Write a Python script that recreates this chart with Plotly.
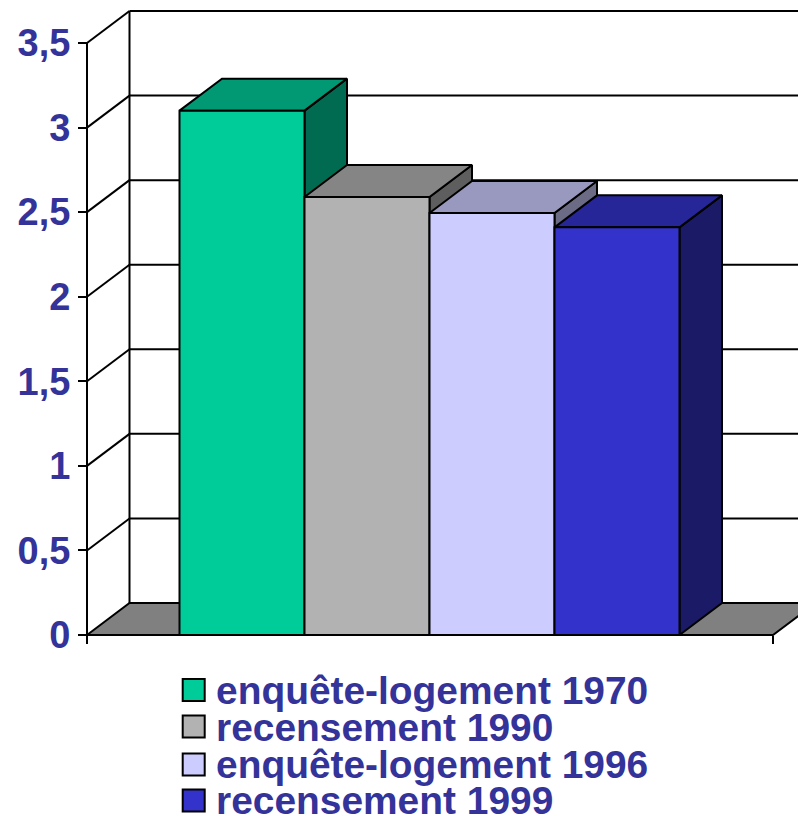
import plotly.graph_objects as go

# Data
series_names = ["enquête-logement 1970", "recensement 1990", "enquête-logement 1996", "recensement 1999"]
series_values = [3.1, 2.59, 2.495, 2.41]
front_colors = ["#00CC99", "#B2B2B2", "#CCCCFF", "#3333CC"]
top_colors = ["#009973", "#858585", "#9999BF", "#262699"]
side_colors = ["#006B50", "#5E5E5E", "#6B6B85", "#1A1A66"]
y_ticks = [0, 0.5, 1, 1.5, 2, 2.5, 3, 3.5]
y_labels = ["0", "0,5", "1", "1,5", "2", "2,5", "3", "3,5"]

W, H = 798, 816
INK = "#333399"
FONT = "Liberation Sans"
LW = 2

# Scale: pixels per unit
PX_Y = 169.14
PX_X = 125.0
ORIGIN_X, ORIGIN_Y = 87.0, 635.0
DEPTH_X = 42.5 / PX_X
DEPTH_Y = 32.0 / PX_Y

x_start = -1.24
x_end = 4.248
y_lo, y_hi = -0.05, 3.70
pad_left_px = 7
x_lo = x_start - pad_left_px / PX_X
x_hi = x_start + (W - ORIGIN_X) / PX_X

dom_x = [(ORIGIN_X - pad_left_px) / W, 1]
dom_y = [(H - (ORIGIN_Y - y_lo * PX_Y)) / H, (H - (ORIGIN_Y - y_hi * PX_Y)) / H]

shapes = []


def line(x0, y0, x1, y1, layer="below"):
    shapes.append(dict(type="line", xref="x", yref="y", x0=x0, y0=y0, x1=x1, y1=y1,
                       layer=layer, line=dict(color="black", width=LW)))


# Floor
bx, by = x_start + DEPTH_X, DEPTH_Y
shapes.append(dict(type="path", xref="x", yref="y", layer="below",
                   path=f"M{x_start},0 L{bx},{by} L{x_end + DEPTH_X},{by} L{x_end},0 Z",
                   fillcolor="#808080", line=dict(color="black", width=LW)))
# Walls and gridlines
line(x_start, 0, x_start, y_ticks[-1])
line(bx, by, bx, y_ticks[-1] + by)
for v in y_ticks[1:]:
    line(x_start, v, bx, v + by)
    line(bx, v + by, x_end + DEPTH_X + 1, v + by)

fig = go.Figure()

# Top and side faces, projected from each value (base subplot)
for i, v in enumerate(series_values):
    l, r = i - 0.5, i + 0.5
    fig.add_trace(go.Scatter(x=[r, r + DEPTH_X, r + DEPTH_X, r, r],
                             y=[v, v + DEPTH_Y, DEPTH_Y, 0, v],
                             mode="lines", fill="toself", fillcolor=side_colors[i],
                             line=dict(color="black", width=LW), showlegend=False, hoverinfo="skip"))
    fig.add_trace(go.Scatter(x=[l, l + DEPTH_X, r + DEPTH_X, r, l],
                             y=[v, v + DEPTH_Y, v + DEPTH_Y, v, v],
                             mode="lines", fill="toself", fillcolor=top_colors[i],
                             line=dict(color="black", width=LW), showlegend=False, hoverinfo="skip"))

# Front faces on an overlaid subplot, so that they cover the faces behind them
for i, (name, v) in enumerate(zip(series_names, series_values)):
    fig.add_trace(go.Bar(x=[i], y=[v], width=1, name=name, showlegend=False, xaxis="x2", yaxis="y2",
                         marker=dict(color=front_colors[i], line=dict(color="black", width=LW))))

# Front baseline over bars
line(x_start, 0, x_end, 0, layer="above")

# Legend entries
for i, name in enumerate(series_names):
    fig.add_trace(go.Scatter(x=[None], y=[None], mode="markers",
                             name=f'<span style="font-size:38.9px">{name}</span>',
                             marker=dict(symbol="square", size=10, color=front_colors[i])))

# Larger legend keys behind the legend's own markers (the library caps their size)
key_centres = [690, 726.5, 764.5, 800.5]
KEY_X, KEY_HALF = 193.7, 11
for i, c in enumerate(key_centres):
    shapes.append(dict(type="rect", xref="paper", yref="paper", layer="above",
                       x0=(KEY_X - KEY_HALF) / W, x1=(KEY_X + KEY_HALF) / W,
                       y0=(H - c - KEY_HALF) / H, y1=(H - c + KEY_HALF) / H,
                       fillcolor=front_colors[i], line=dict(color="black", width=LW)))

fig.update_layout(
    width=W, height=H,
    margin=dict(l=0, r=0, t=0, b=0, autoexpand=False),
    paper_bgcolor="white", plot_bgcolor="white",
    barmode="overlay",
    shapes=shapes,
    xaxis=dict(domain=dom_x, range=[x_lo, x_hi], anchor="free",
               position=(H - ORIGIN_Y) / H, showgrid=False, zeroline=False, showline=False,
               tickmode="array", tickvals=[x_start, x_end], ticktext=["", ""],
               ticks="outside", ticklen=8, tickwidth=LW, tickcolor="black"),
    yaxis=dict(domain=dom_y, range=[y_lo, y_hi], anchor="free",
               position=ORIGIN_X / W, showgrid=False, zeroline=False, showline=False,
               tickmode="array", tickvals=y_ticks, ticktext=y_labels,
               ticks="outside", ticklen=9, tickwidth=LW, tickcolor="black",
               ticklabelstandoff=0,
               tickfont=dict(family=FONT, size=38, color=INK, weight=700)),
    xaxis2=dict(overlaying="x", range=[x_lo, x_hi], visible=False, anchor="y2"),
    yaxis2=dict(overlaying="y", range=[y_lo, y_hi], visible=False, anchor="x2"),
    legend=dict(x=176 / W, xanchor="left", y=(H - 670.5) / H, yanchor="top",
                bgcolor="rgba(0,0,0,0)", borderwidth=0, itemsizing="trace", itemwidth=30,
                font=dict(family=FONT, size=26, color=INK, weight=700)),
    font=dict(family=FONT),
)

# The page's default body margin would shift the figure and enlarge the page
fig.write_html("out.html", config=dict(displayModeBar=False),
               post_script="document.body.style.margin='0';document.documentElement.style.overflow='hidden';")
